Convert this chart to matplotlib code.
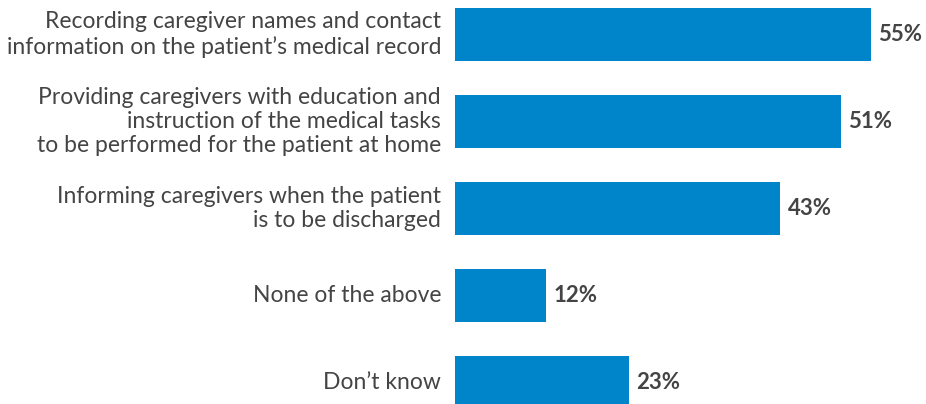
import matplotlib.pyplot as plt

# data
labels = [
    "Recording caregiver names and contact\ninformation on the patient\u2019s medical record",
    "Providing caregivers with education and\ninstruction of the medical tasks\nto be performed for the patient at home",
    "Informing caregivers when the patient\nis to be discharged",
    "None of the above",
    "Don\u2019t know",
]
values = [55, 51, 43, 12, 23]

blue = "#0085CA"
grey = "#444444"

fig = plt.figure(figsize=(9.26, 4.04), dpi=100)
ax = fig.add_axes([455 / 926, 0, 1 - 455 / 926, 1])

pos = list(range(len(values)))
ax.barh(pos, values, height=0.61, color=blue)

ax.set_xlim(0, 471 / 7.56)
ax.set_ylim(4.247, -0.397)

for p, v, lab in zip(pos, values, labels):
    ax.text(v + 1.0, p, f"{v}%", va="center", ha="left",
            fontsize=16, fontweight="bold", color=grey, family="Lato")
    ax.annotate(lab, xy=(0, p), xytext=(-10, 0), textcoords="offset points",
                ha="right", va="center", fontsize=16.5, color=grey,
                family="Lato", linespacing=1.2, annotation_clip=False)

ax.axis("off")
fig.savefig("out.png", dpi=100)
